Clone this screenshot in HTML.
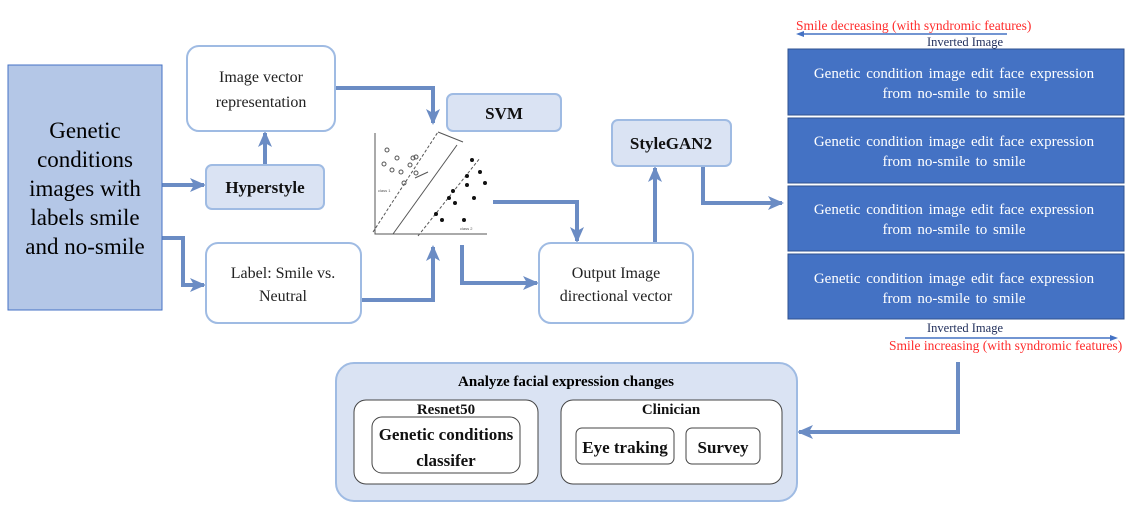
<!DOCTYPE html>
<html><head><meta charset="utf-8"><style>
html,body{margin:0;padding:0;background:#fff;}
svg{display:block;font-family:"Liberation Serif",serif;}
</style></head><body>
<svg width="1129" height="515" viewBox="0 0 1129 515" xmlns="http://www.w3.org/2000/svg">
<defs>
<marker id="ah" markerWidth="18" markerHeight="16" refX="14" refY="7" orient="auto" markerUnits="userSpaceOnUse">
<path d="M0,0 L16,7 L0,14 L4,7 z" fill="#6b8cc4"/></marker>
<marker id="ah2" markerWidth="8" markerHeight="8" refX="4" refY="4" orient="auto" markerUnits="userSpaceOnUse">
<path d="M0,1 L8,4 L0,7 z" fill="#4472c4"/></marker>
</defs>
<g fill="none" stroke="#6b8cc4" stroke-width="4" marker-end="url(#ah)">
<path d="M162,185 H204" />
<path d="M162,238 H183 V285 H204" />
<path d="M265,165 V133" />
<path d="M335,88 H433 V123" />
<path d="M361,300 H433 V247" />
<path d="M462,245 V283 H537" />
<path d="M493,202 H577 V241" />
<path d="M655,243 V168" />
<path d="M703,166 V203 H782" />
<path d="M958,362 V432 H799" />
</g>
<!-- left box -->
<rect x="8" y="65" width="154" height="245" fill="#b4c7e7" stroke="#4472c4" stroke-width="1"/>
<g font-size="23" text-anchor="middle" fill="#000">
<text x="85" y="138">Genetic</text><text x="85" y="167">conditions</text>
<text x="85" y="196">images with</text><text x="85" y="225">labels smile</text><text x="85" y="254">and no-smile</text></g>
<!-- boxes -->
<g stroke="#9fbbe3" stroke-width="2">
<rect x="187" y="46" width="148" height="85" rx="12" fill="#fff"/>
<rect x="206" y="165" width="118" height="44" rx="6" fill="#dae3f3"/>
<rect x="206" y="243" width="155" height="80" rx="12" fill="#fff"/>
<rect x="447" y="94" width="114" height="37" rx="6" fill="#dae3f3"/>
<rect x="539" y="243" width="154" height="80" rx="12" fill="#fff"/>
<rect x="612" y="120" width="119" height="46" rx="6" fill="#dae3f3"/>
<rect x="336" y="363" width="461" height="138" rx="18" fill="#dae3f3"/>
</g>
<g font-size="16" text-anchor="middle" fill="#222">
<text x="261" y="82">Image vector</text><text x="261" y="107">representation</text>
<text x="283" y="278">Label: Smile vs.</text><text x="283" y="301">Neutral</text>
<text x="616" y="278">Output Image</text><text x="616" y="301">directional vector</text>
</g>
<g font-size="17" font-weight="bold" text-anchor="middle" fill="#111">
<text x="265" y="193">Hyperstyle</text>
<text x="504" y="119">SVM</text>
<text x="671" y="149">StyleGAN2</text>
</g>
<!-- svm plot -->
<g stroke="#555" fill="none" stroke-width="1">
<path d="M375,133 V234 H487"/>
<path d="M393,234 L457,145"/>
<path d="M373,232 L438,132" stroke-dasharray="3,2"/>
<path d="M418,236 L480,158" stroke-dasharray="3,2"/>
<path d="M438,132 L463,142"/>
<path d="M415,178 L428,172"/>
</g>
<g fill="none" stroke="#555" stroke-width="1">
<circle cx="387" cy="150" r="2"/><circle cx="397" cy="158" r="2"/><circle cx="384" cy="164" r="2"/>
<circle cx="392" cy="170" r="2"/><circle cx="401" cy="172" r="2"/><circle cx="413" cy="158" r="2"/>
<circle cx="404" cy="183" r="2"/><circle cx="416" cy="157" r="2"/><circle cx="410" cy="165" r="2"/>
<circle cx="416" cy="173" r="2"/>
</g>
<g fill="#111">
<circle cx="472" cy="160" r="2"/><circle cx="480" cy="172" r="2"/><circle cx="467" cy="176" r="2"/>
<circle cx="485" cy="183" r="2"/><circle cx="467" cy="185" r="2"/><circle cx="453" cy="191" r="2"/>
<circle cx="449" cy="198" r="2"/><circle cx="455" cy="203" r="2"/><circle cx="474" cy="198" r="2"/>
<circle cx="436" cy="214" r="2"/><circle cx="442" cy="220" r="2"/><circle cx="464" cy="220" r="2"/>
</g>
<text x="378" y="192" font-size="4" fill="#555" font-family="Liberation Sans,sans-serif">class 1</text>
<text x="460" y="230" font-size="4" fill="#555" font-family="Liberation Sans,sans-serif">class 2</text>
<!-- right labels -->
<text x="796" y="30" font-size="13.5" fill="#ff2b2b">Smile decreasing (with syndromic features)</text>
<line x1="1007" y1="34" x2="800" y2="34" stroke="#4472c4" stroke-width="1.5" marker-end="url(#ah2)"/>
<text x="927" y="46" font-size="12.5" fill="#1f2d5a">Inverted Image</text>
<g fill="#4472c4" stroke="#2f528f" stroke-width="1">
<rect x="788" y="49" width="336" height="66"/>
<rect x="788" y="118" width="336" height="65"/>
<rect x="788" y="186" width="336" height="65"/>
<rect x="788" y="254" width="336" height="65"/>
</g>
<g font-size="15" fill="#fff" text-anchor="middle" word-spacing="2">
<text x="954" y="78">Genetic condition image edit face expression</text><text x="954" y="98">from no-smile to smile</text>
<text x="954" y="146">Genetic condition image edit face expression</text><text x="954" y="166">from no-smile to smile</text>
<text x="954" y="214">Genetic condition image edit face expression</text><text x="954" y="234">from no-smile to smile</text>
<text x="954" y="283">Genetic condition image edit face expression</text><text x="954" y="303">from no-smile to smile</text>
</g>
<text x="927" y="332" font-size="12.5" fill="#1f2d5a">Inverted Image</text>
<line x1="905" y1="338" x2="1114" y2="338" stroke="#4472c4" stroke-width="1.5" marker-end="url(#ah2)"/>
<text x="889" y="350" font-size="13.5" fill="#ff2b2b">Smile increasing (with syndromic features)</text>
<!-- analyze -->
<text x="566" y="386" font-size="15" font-weight="bold" text-anchor="middle">Analyze facial expression changes</text>
<g fill="#fff" stroke="#444" stroke-width="1">
<rect x="354" y="400" width="184" height="84" rx="12"/>
<rect x="372" y="417" width="148" height="56" rx="10"/>
<rect x="561" y="400" width="221" height="84" rx="12"/>
<rect x="576" y="428" width="98" height="36" rx="6"/>
<rect x="686" y="428" width="74" height="36" rx="6"/>
</g>
<g font-weight="bold" text-anchor="middle" fill="#111">
<text x="446" y="414" font-size="15">Resnet50</text>
<text x="446" y="440" font-size="17">Genetic conditions</text>
<text x="446" y="466" font-size="17">classifer</text>
<text x="671" y="414" font-size="15">Clinician</text>
<text x="625" y="453" font-size="17">Eye traking</text>
<text x="723" y="453" font-size="17">Survey</text>
</g>
</svg>
</body></html>
